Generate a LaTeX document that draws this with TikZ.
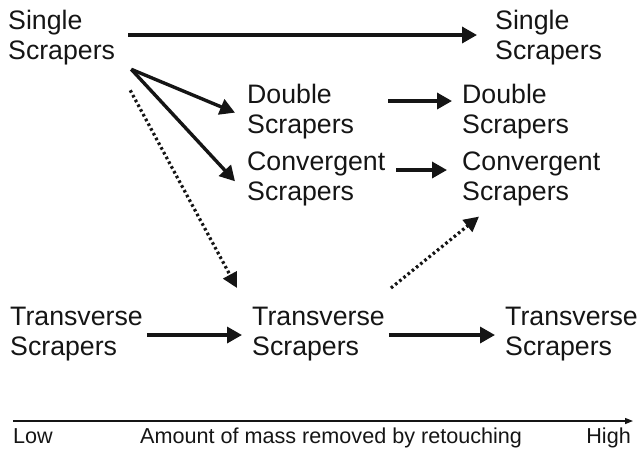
\documentclass[tikz,border=0pt]{standalone}
\usepackage{fontspec}
\setmainfont{Liberation Sans}
\usetikzlibrary{arrows.meta}
\definecolor{ink}{HTML}{151515}
\tikzset{
  txt/.style={anchor=north west, inner sep=0pt, align=left, text=ink,
    font=\fontsize{26.7}{30}\selectfont},
  lbl/.style={inner sep=0pt, text=ink, font=\fontsize{21.6}{25}\selectfont},
  flow/.style={draw=ink, line width=3.4pt, -{Triangle[length=15pt,width=16pt]}},
  dotflow/.style={draw=ink, line width=3.2pt, dash pattern=on 2.6pt off 2.8pt,
    -{Triangle[length=15pt,width=15pt]}},
  axisline/.style={draw=ink, line width=1.4pt, -{Triangle[length=8pt,width=6pt]}}
}
\begin{document}
\begin{tikzpicture}[x=1pt,y=-1pt]
\useasboundingbox (0,0) rectangle (639,451);
% nodes
\node[txt] (sl) at (8,10) {Single\\Scrapers};
\node[txt] (sr) at (495,10) {Single\\Scrapers};
\node[txt] (dm) at (247,84) {Double\\Scrapers};
\node[txt] (dr) at (462,84) {Double\\Scrapers};
\node[txt] (cm) at (247,152) {Convergent\\Scrapers};
\node[txt] (cr) at (462,152) {Convergent\\Scrapers};
\node[txt] (tl) at (10,307) {Transverse\\Scrapers};
\node[txt] (tm) at (252,307) {Transverse\\Scrapers};
\node[txt] (tr) at (505,307) {Transverse\\Scrapers};
% axis
\coordinate (ax0) at (13,421);
\coordinate (ax1) at (633,421);
\draw[axisline] (ax0) -- (ax1);
\node[lbl, anchor=base west] (low) at (13,443) {Low};
\node[lbl, anchor=base west] (amt) at (140,443) {Amount of mass removed by retouching};
\node[lbl, anchor=base east] (high) at (631,443) {High};
% connectors
\draw[flow] ([xshift=13pt]sl.east |- 0,35) -- ([xshift=-18pt]sr.west |- 0,35);
\draw[flow] ([shift={(16pt,-4pt)}]sl.south east) -- ([shift={(-12pt,-1pt)}]dm.west);
\draw[flow] ([shift={(16pt,-4pt)}]sl.south east) -- ([shift={(-12pt,-2pt)}]cm.west);
\draw[flow] ([xshift=141pt]dm.west |- 0,101) -- ([xshift=-10pt]dr.west |- 0,101);
\draw[flow] ([xshift=11pt]cm.east |- 0,170) -- ([xshift=-15pt]cr.west |- 0,170);
\draw[flow] ([xshift=4pt]tl.east |- 0,335) -- ([xshift=-10pt]tm.west |- 0,335);
\draw[flow] ([xshift=4pt]tm.east |- 0,335) -- ([xshift=-10pt]tr.west |- 0,335);
\draw[dotflow] ([shift={(15pt,-25pt)}]sl.south east) -- ([shift={(-15pt,19pt)}]tm.north west);
\draw[dotflow] ([shift={(6pt,19pt)}]tm.north east) -- ([shift={(17pt,-10pt)}]cr.south west);
\end{tikzpicture}
\end{document}
